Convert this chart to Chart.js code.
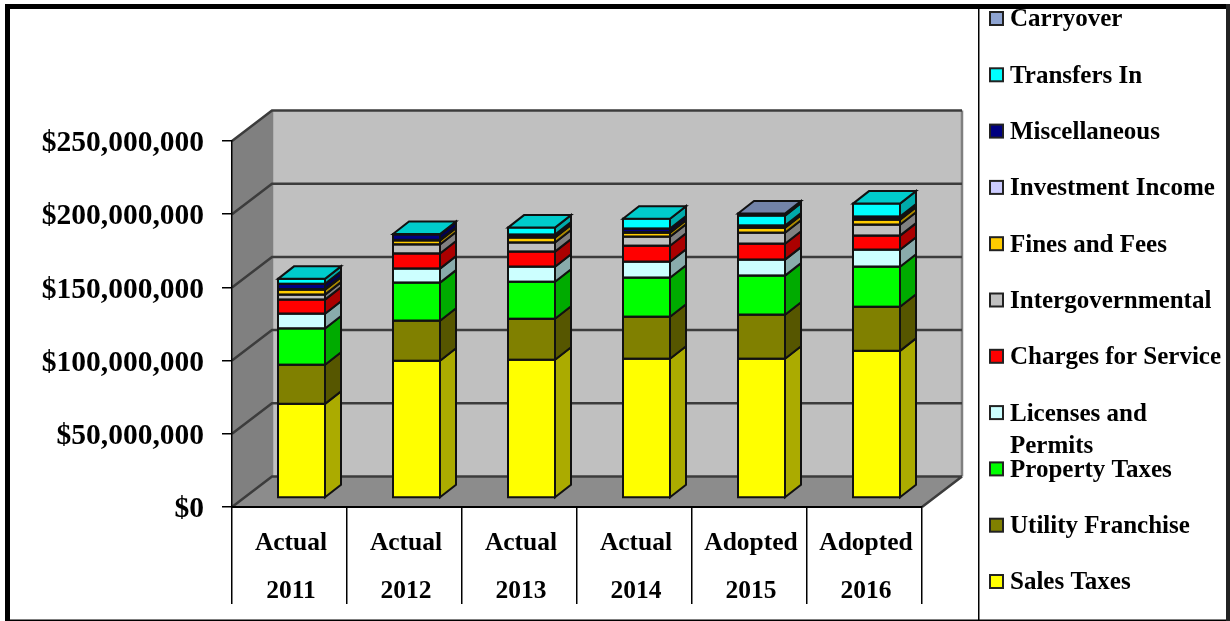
<!DOCTYPE html>
<html>
<head>
<meta charset="utf-8">
<title>Revenue by source</title>
<script src="https://cdn.jsdelivr.net/npm/chart.js@4"></script>
<style>
  html, body { margin: 0; padding: 0; background: #fff; }
  /* the reference is a soft, resampled screenshot */
  canvas { display: block; filter: blur(0.45px); }
</style>
</head>
<body>
<canvas id="chart" width="1230" height="621"></canvas>
<script>
const stages = ['Actual', 'Actual', 'Actual', 'Actual', 'Adopted', 'Adopted'];
const years = ['2011', '2012', '2013', '2014', '2015', '2016'];

// values in millions of dollars
const salesTaxes = [64.3, 93.7, 94.4, 95.1, 95.1, 100.5];
const utilityFranchise = [26.7, 27.4, 28.0, 28.7, 30.1, 30.1];
const propertyTaxes = [24.8, 26.0, 25.3, 26.7, 26.7, 27.4];
const licensesPermits = [10.1, 9.6, 10.3, 10.9, 10.9, 11.6];
const chargesForService = [9.6, 10.3, 10.3, 10.9, 10.9, 9.6];
const intergovernmental = [3.4, 6.2, 6.2, 6.2, 7.5, 7.5];
const finesAndFees = [3.4, 2.7, 3.4, 2.7, 3.4, 3.4];
const investmentIncome = [0.4, 0.4, 0.3, 0.4, 0.3, 0.4];
const miscellaneous = [3.6, 3.7, 1.7, 2.4, 1.2, 1.7];
const transfersIn = [3.4, 0.3, 4.8, 6.8, 6.8, 8.9];
const carryover = [0, 0, 0, 0, 1.4, 0];

const seriesNames = ['Sales Taxes', 'Utility Franchise', 'Property Taxes', 'Licenses and Permits',
    'Charges for Service', 'Intergovernmental', 'Fines and Fees', 'Investment Income',
    'Miscellaneous', 'Transfers In', 'Carryover'];
const seriesValues = [salesTaxes, utilityFranchise, propertyTaxes, licensesPermits, chargesForService,
    intergovernmental, finesAndFees, investmentIncome, miscellaneous, transfersIn, carryover];
const seriesColors = ['#ffff00', '#808000', '#00ff00', '#ccffff', '#ff0000', '#c0c0c0',
    '#ffcc00', '#ccccff', '#000080', '#00ffff', '#8ea4d2'];

const FONT = '"Liberation Serif", "Times New Roman", serif';

// how far the back wall and the bars sit behind the front plane
const WALL_DX = 40, WALL_DY = 30.5;
const BAR_DX = 12, BAR_DY = 9;
const SIDE_DX = 16, SIDE_DY = 12.5;

function shade(hex, f) {
    const n = parseInt(hex.slice(1), 16);
    const c = [n >> 16, (n >> 8) & 255, n & 255].map(v => Math.round(v * f));
    return `rgb(${c[0]},${c[1]},${c[2]})`;
}

function poly(ctx, pts, fill, stroke, lw) {
    ctx.beginPath();
    pts.forEach((p, i) => i ? ctx.lineTo(p[0], p[1]) : ctx.moveTo(p[0], p[1]));
    ctx.closePath();
    ctx.fillStyle = fill;
    ctx.fill();
    if (stroke) {
        ctx.strokeStyle = stroke;
        ctx.lineWidth = lw;
        ctx.stroke();
    }
}

// back wall, side wall, floor and the gridlines that run across them
const wallsPlugin = {
    id: 'walls',
    beforeDraw(chart) {
        const { ctx, chartArea: a, scales } = chart;
        const l = a.left, r = a.right, t = a.top, b = a.bottom;
        poly(ctx, [[l + WALL_DX, t - WALL_DY], [r + WALL_DX, t - WALL_DY], [r + WALL_DX, b - WALL_DY], [l + WALL_DX, b - WALL_DY]], '#c0c0c0');
        poly(ctx, [[l, t], [l + WALL_DX, t - WALL_DY], [l + WALL_DX, b - WALL_DY], [l, b]], '#808080');
        poly(ctx, [[l, b], [l + WALL_DX, b - WALL_DY], [r + WALL_DX, b - WALL_DY], [r, b]], '#8c8c8c');
        ctx.save();
        ctx.strokeStyle = '#808080';
        ctx.lineWidth = 2.5;
        ctx.beginPath();
        ctx.moveTo(r + WALL_DX, t - WALL_DY);
        ctx.lineTo(r + WALL_DX, b - WALL_DY);
        ctx.moveTo(l + WALL_DX, t - WALL_DY);
        ctx.lineTo(l + WALL_DX, b - WALL_DY);
        ctx.stroke();
        ctx.strokeStyle = '#3c3c3c';
        ctx.beginPath();
        scales.y.ticks.forEach(tick => {
            const y = scales.y.getPixelForValue(tick.value);
            ctx.moveTo(l, y);
            ctx.lineTo(l + WALL_DX, y - WALL_DY);
            ctx.lineTo(r + WALL_DX, y - WALL_DY);
        });
        ctx.moveTo(r, b);
        ctx.lineTo(r + WALL_DX, b - WALL_DY);
        ctx.stroke();
        ctx.restore();
    }
};

// moves the flat bars back into the room and adds their outlines, side and top faces
const depthPlugin = {
    id: 'depth',
    beforeDatasetsDraw(chart) {
        chart.ctx.save();
        chart.ctx.translate(BAR_DX, -BAR_DY);
    },
    afterDatasetsDraw(chart) {
        const ctx = chart.ctx;
        const tops = {};
        chart.data.datasets.forEach((ds, d) => {
            chart.getDatasetMeta(d).data.forEach((bar, i) => {
                if (!seriesValues[d][i]) return;
                const p = bar.getProps(['x', 'y', 'base', 'width'], true);
                const xl = p.x - p.width / 2, xr = p.x + p.width / 2;
                ctx.strokeStyle = '#111';
                ctx.lineWidth = 2;
                ctx.strokeRect(xl, p.y, p.width, p.base - p.y);
                poly(ctx, [[xr, p.y], [xr + SIDE_DX, p.y - SIDE_DY], [xr + SIDE_DX, p.base - SIDE_DY], [xr, p.base]],
                    shade(seriesColors[d], 0.67), '#111', 2);
                tops[i] = { p, color: seriesColors[d] };
            });
        });
        Object.values(tops).forEach(({ p, color }) => {
            const xl = p.x - p.width / 2, xr = p.x + p.width / 2;
            poly(ctx, [[xl, p.y], [xl + SIDE_DX, p.y - SIDE_DY], [xr + SIDE_DX, p.y - SIDE_DY], [xr, p.y]],
                shade(color, 0.8), '#111', 2);
        });
        ctx.restore();
    }
};

// legend and picture frame; the legend wraps one label and keeps an even pitch
const framePlugin = {
    id: 'frame',
    afterDraw(chart) {
        const ctx = chart.ctx;
        ctx.save();
        ctx.font = `bold 25px ${FONT}`;
        ctx.textBaseline = 'middle';
        seriesNames.slice().reverse().forEach((name, i) => {
            const y = 19 + i * 56.3;
            const d = seriesNames.length - 1 - i;
            ctx.fillStyle = seriesColors[d];
            ctx.fillRect(990, y - 7, 13, 13);
            ctx.strokeStyle = '#222';
            ctx.lineWidth = 2;
            ctx.strokeRect(990, y - 7, 13, 13);
            ctx.fillStyle = '#000';
            if (name === 'Licenses and Permits') {
                ctx.fillText('Licenses and', 1010, y + 1);
                ctx.fillText('Permits', 1010, y + 33);
            } else {
                ctx.fillText(name, 1010, y + 1);
            }
        });
        ctx.fillStyle = '#000';
        ctx.fillRect(978, 6, 1.5, 614);
        ctx.fillRect(5, 4, 1225, 5);
        ctx.fillRect(5, 4, 5, 617);
        ctx.fillRect(5, 619.5, 1225, 1.5);
        ctx.fillStyle = '#222';
        ctx.fillRect(1226, 4, 4, 617);
        ctx.restore();
    }
};

new Chart(document.getElementById('chart'), {
    type: 'bar',
    data: {
        labels: stages.map((s, i) => [s, years[i]]),
        datasets: seriesNames.map((name, d) => ({
            label: name,
            data: seriesValues[d].map(v => v * 1000000),
            backgroundColor: seriesColors[d],
            borderWidth: 0,
            barThickness: 47
        }))
    },
    options: {
        responsive: false,
        animation: false,
        layout: { padding: { left: 0, top: 141, right: 308, bottom: 17 } },
        plugins: { legend: { display: false }, tooltip: { enabled: false } },
        scales: {
            x: {
                stacked: true,
                afterFit: s => { s.height = 97; },
                border: { color: '#000', width: 2 },
                grid: { offset: true, drawOnChartArea: false, color: '#000', lineWidth: 1.5, tickLength: 97 },
                ticks: {
                    color: '#000',
                    padding: -85,
                    maxRotation: 0,
                    labelOffset: 1.5,
                    font: { family: FONT, size: 25.5, weight: 'bold', lineHeight: 1.88 }
                }
            },
            y: {
                stacked: true,
                min: 0,
                max: 250000000,
                afterFit: s => { s.width = 232; },
                border: { color: '#000', width: 1.5 },
                grid: { drawOnChartArea: false, color: '#000', lineWidth: 1.5, tickLength: 10 },
                ticks: {
                    color: '#000',
                    stepSize: 50000000,
                    padding: 18,
                    labelOffset: 2.5,
                    font: { family: FONT, size: 29.5, weight: 'bold' },
                    callback: v => '$' + v.toLocaleString('en-US')
                }
            }
        }
    },
    plugins: [wallsPlugin, depthPlugin, framePlugin]
});
</script>
</body>
</html>
